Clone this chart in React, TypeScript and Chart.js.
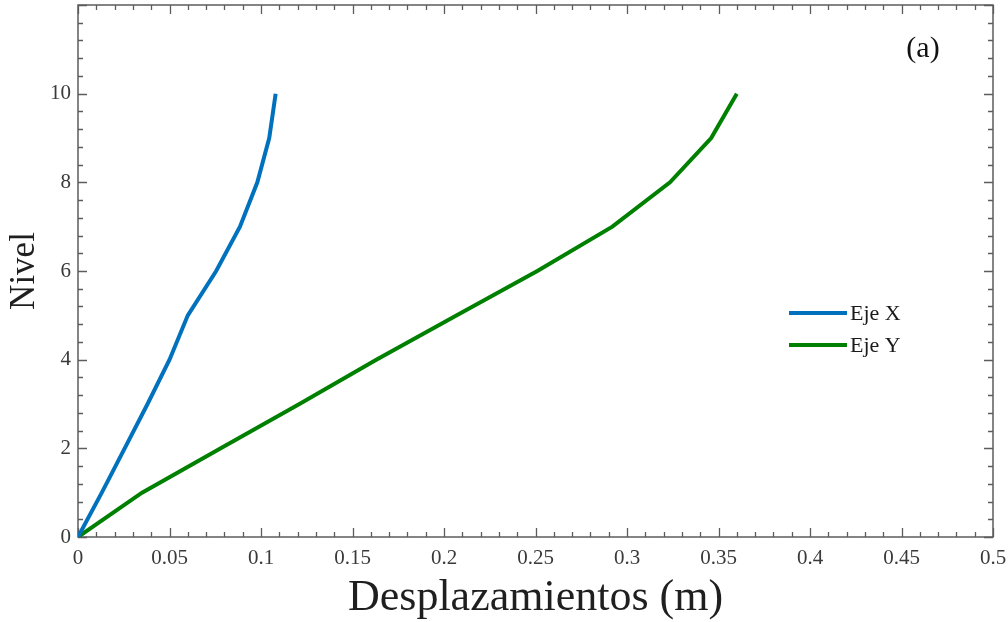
import React, { useEffect, useRef } from "react";
import { Chart, registerables } from "chart.js";

Chart.register(...registerables);

const levels = [0, 1, 2, 3, 4, 5, 6, 7, 8, 9, 10];
const dispEjeX = [0, 0.013, 0.0255, 0.038, 0.05, 0.06, 0.0755, 0.0885, 0.098, 0.1045, 0.108];
const dispEjeY = [0, 0.035, 0.078, 0.121, 0.163, 0.207, 0.251, 0.292, 0.3235, 0.346, 0.36];
const seriesLabels = ["Eje X", "Eje Y"];
const seriesColors = ["#0072BD", "#008000"];
const xTickValues = [0, 0.05, 0.1, 0.15, 0.2, 0.25, 0.3, 0.35, 0.4, 0.45, 0.5];
const yTickValues = [0, 2, 4, 6, 8, 10];
const xMinorStep = 0.01;
const yMinorStep = 0.4;
const xTitle = "Desplazamientos (m)";
const yTitle = "Nivel";
const panelLabel = "(a)";

const FONT = "'Liberation Serif', 'Times New Roman', serif";
const AXIS_COLOR = "#5c5c5c";

const framePlugin = {
  id: "frame",
  beforeDatasetsDraw(chart: any) {
    const { ctx, chartArea: a, scales } = chart;
    const x = scales.x;
    const y = scales.y;
    ctx.save();
    ctx.strokeStyle = AXIS_COLOR;
    ctx.lineWidth = 1.5;
    ctx.strokeRect(a.left, a.top, a.right - a.left, a.bottom - a.top);
    ctx.lineWidth = 1.3;
    const nx = Math.round((x.max - x.min) / xMinorStep);
    for (let i = 0; i <= nx; i++) {
      const v = x.min + i * xMinorStep;
      const px = Math.round(x.getPixelForValue(v)) + 0.5;
      const len = i % 5 === 0 ? 9 : 5;
      ctx.beginPath();
      ctx.moveTo(px, a.bottom);
      ctx.lineTo(px, a.bottom - len);
      ctx.moveTo(px, a.top);
      ctx.lineTo(px, a.top + len);
      ctx.stroke();
    }
    const ny = Math.round((y.max - y.min) / yMinorStep);
    for (let i = 0; i <= ny; i++) {
      const v = y.min + i * yMinorStep;
      const py = Math.round(y.getPixelForValue(v)) + 0.5;
      const len = i % 5 === 0 ? 9 : 5;
      ctx.beginPath();
      ctx.moveTo(a.left, py);
      ctx.lineTo(a.left + len, py);
      ctx.moveTo(a.right, py);
      ctx.lineTo(a.right - len, py);
      ctx.stroke();
    }
    ctx.restore();
  },
  afterDraw(chart: any) {
    const { ctx } = chart;
    ctx.save();
    chart.data.datasets.forEach((ds: any, i: number) => {
      const yy = 313 + i * 32;
      ctx.strokeStyle = ds.borderColor;
      ctx.lineWidth = 4;
      ctx.beginPath();
      ctx.moveTo(789, yy);
      ctx.lineTo(847, yy);
      ctx.stroke();
      ctx.fillStyle = "#1a1a1a";
      ctx.font = `22px ${FONT}`;
      ctx.textBaseline = "middle";
      ctx.textAlign = "left";
      ctx.fillText(ds.label, 850, yy + 1);
    });
    ctx.fillStyle = "#111";
    ctx.font = `30px ${FONT}`;
    ctx.textAlign = "center";
    ctx.textBaseline = "middle";
    ctx.fillText(panelLabel, 923, 49);
    ctx.restore();
  },
};

function fmt(v: number) {
  return String(parseFloat(v.toFixed(3)));
}

function zeroPad(s: any) {
  s.paddingTop = 0;
  s.paddingBottom = 0;
  s.paddingLeft = 0;
  s.paddingRight = 0;
}

export default function App() {
  const ref = useRef<HTMLCanvasElement | null>(null);
  useEffect(() => {
    if (!ref.current) return;
    const chart = new Chart(ref.current, {
      type: "line",
      data: {
        datasets: [
          {
            label: seriesLabels[0],
            data: levels.map((l, i) => ({ x: dispEjeX[i], y: l })),
            borderColor: seriesColors[0],
            backgroundColor: seriesColors[0],
            borderWidth: 4,
            pointRadius: 0,
            tension: 0,
          },
          {
            label: seriesLabels[1],
            data: levels.map((l, i) => ({ x: dispEjeY[i], y: l })),
            borderColor: seriesColors[1],
            backgroundColor: seriesColors[1],
            borderWidth: 4,
            pointRadius: 0,
            tension: 0,
          },
        ],
      },
      options: {
        responsive: false,
        animation: false,
        layout: { padding: { left: 0, top: 5, right: 15, bottom: 0 } },
        plugins: { legend: { display: false }, tooltip: { enabled: false } },
        scales: {
          x: {
            type: "linear",
            min: 0,
            max: 0.5,
            grid: { display: false, drawTicks: false },
            border: { display: false },
            afterBuildTicks: (s: any) => {
              s.ticks = xTickValues.map((v) => ({ value: v }));
            },
            afterFit: (s: any) => {
              s.height = 85;
              zeroPad(s);
            },
            ticks: {
              font: { family: FONT, size: 21 },
              color: "#3a3a3a",
              padding: 9,
              maxRotation: 0,
              autoSkip: false,
              callback: (v: any) => fmt(Number(v)),
            },
            title: {
              display: true,
              text: xTitle,
              font: { family: FONT, size: 44, lineHeight: 1 },
              color: "#1f1f1f",
              padding: { top: 0, bottom: 1.5 },
            },
          },
          y: {
            type: "linear",
            min: 0,
            max: 12,
            grid: { display: false, drawTicks: false },
            border: { display: false },
            afterBuildTicks: (s: any) => {
              s.ticks = yTickValues.map((v) => ({ value: v }));
            },
            afterFit: (s: any) => {
              s.width = 78;
              zeroPad(s);
            },
            ticks: {
              font: { family: FONT, size: 21 },
              color: "#3a3a3a",
              padding: 7,
              autoSkip: false,
              callback: (v: any) => fmt(Number(v)),
            },
            title: {
              display: true,
              text: yTitle,
              font: { family: FONT, size: 35, lineHeight: 1 },
              color: "#1f1f1f",
              padding: { top: 7.5, bottom: 0 },
            },
          },
        },
      },
      plugins: [framePlugin],
    });
    return () => chart.destroy();
  }, []);
  return (
    <canvas
      ref={ref}
      width={1008}
      height={622}
      style={{ position: "absolute", left: 0, top: 0, width: 1008, height: 622, display: "block", background: "#fff" }}
    />
  );
}
